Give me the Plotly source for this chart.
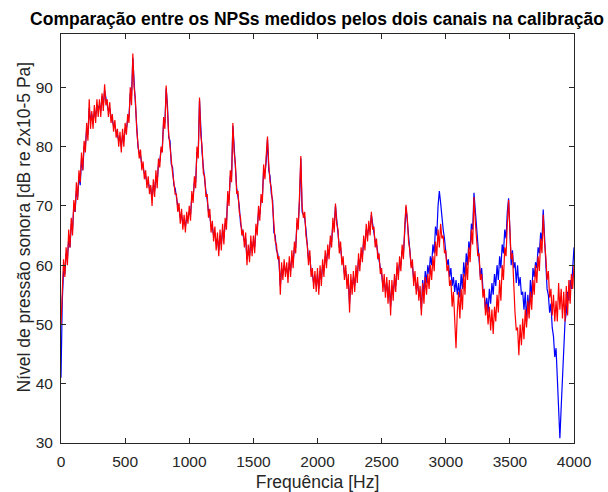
import plotly.graph_objects as go

freq_hz = list(range(0, 4001, 10))

nps_canal_azul = [
    41, 54, 59, 58.5, 62, 61, 64.5, 63, 67, 66,
    70, 69, 72.5, 71.5, 75, 73.5, 78, 76, 80, 80,
    83, 82, 86.5, 84.5, 85.5, 84, 86, 85, 87, 86.5,
    87, 86, 88.5, 87, 89.5, 88, 87, 86, 86.5, 85,
    84.5, 83.5, 83.5, 82.5, 82, 81, 81.5, 80, 82, 81,
    83, 83, 84.5, 85, 89, 88.5, 95, 91, 87, 84,
    80, 79, 78.5, 77, 76.5, 75.5, 75, 74, 74, 73,
    73, 71, 73.5, 72.5, 75, 74, 77, 77.5, 79.5, 80,
    84, 84, 89.8, 87, 81.5, 81, 77, 76.5, 73.5, 73,
    71, 70, 69.5, 68, 68.5, 67, 67.5, 66.5, 68, 68,
    69, 68.5, 71.5, 71.5, 74, 74, 79, 79, 87.8, 83,
    79, 76.5, 74, 72.5, 71, 69, 68.5, 66.5, 66.5, 65,
    65.5, 63.5, 64.5, 62.5, 65, 63.5, 66, 64.5, 67, 67,
    71.5, 71, 75, 75, 83.5, 80, 76, 73, 71.5, 70,
    67, 66, 65, 64, 64.5, 61, 62.5, 61.5, 64, 62.5,
    64, 63, 66, 66, 69, 68.5, 71, 71.5, 76, 75.5,
    77.5, 81.2, 76, 75, 72, 71, 65.5, 65, 62.5, 62,
    60.5, 56.5, 59.5, 58.5, 60, 59, 59.5, 58, 60.5, 59,
    61.5, 60.5, 63, 63, 67, 67, 71, 78, 69, 68.5,
    68, 66, 62.5, 61, 61.5, 59, 58.5, 57, 58, 56.5,
    58.5, 56, 59, 57.5, 60, 59, 61.5, 60.5, 62.5, 62,
    64, 64, 67, 66.5, 70, 68, 65, 63, 63, 61,
    60.5, 58.5, 59, 57, 57.5, 53.5, 57.5, 56, 58, 56.5,
    59, 58, 61, 60, 62, 61.5, 64, 63.5, 66, 65,
    66.5, 66, 68.5, 67, 65.5, 64, 63.5, 62, 61, 59.5,
    58.5, 56.5, 57.5, 55.5, 57, 54.5, 56.5, 53, 56.5, 55,
    57.5, 56.5, 59.5, 58.5, 60.5, 60, 62.5, 62, 65.5, 69.8,
    67.5, 65, 61.5, 60, 60, 57.5, 58, 56, 57, 55,
    55.5, 52.5, 57.5, 55, 59, 57, 60, 58.5, 61.5, 60,
    63.5, 62, 66.5, 65, 70, 72.5, 70.5, 68, 66, 64.5,
    62.5, 60, 61, 58, 59.5, 56.5, 58, 55.5, 57.5, 55,
    57, 54.5, 58.5, 56, 60.5, 58, 62, 60, 64, 62.5,
    67, 66, 72.2, 69, 66.5, 63, 61, 58, 59.5, 56,
    55, 52.5, 54.5, 52, 56, 53.5, 57, 55, 58.5, 56.5,
    60, 57.5, 61.5, 59.5, 63.5, 62, 66, 64.5, 69, 71.3,
    66, 60, 62.5, 59.5, 60.5, 57, 60, 56.5, 58, 55,
    55.5, 52.5, 55.5, 50.5, 55, 52, 57.5, 54.5, 59.5, 58,
    60.5, 59.5, 63, 62, 65.5, 64, 69.4, 65, 60.5, 56,
    55, 52, 53.5, 49.5, 48, 44.5, 46, 40, 35, 30.8,
    36, 42, 47, 50.5, 52, 55.5, 54, 57.5, 56, 59.5,
    63,
]

nps_canal_vermelho = [
    50, 56, 61, 58, 63, 60, 66, 63, 68, 65,
    71, 69, 74, 71, 76, 74, 79, 76, 81, 79,
    84, 81, 88, 83, 86, 83, 87, 84, 88, 85,
    88, 85, 89, 86, 90.5, 87, 88, 85, 87.5, 84,
    85.5, 82.5, 84.5, 81.5, 83, 80, 82.5, 79, 83, 80,
    84, 82, 85.5, 84, 90, 87, 95.7, 90, 88, 83,
    81, 78, 79.5, 76, 77.5, 74.5, 76, 73, 75, 72,
    73.5, 70, 74.5, 71.5, 76, 73, 78, 76.5, 80, 79,
    85, 83, 90.3, 86, 82, 80, 77.5, 75.5, 74, 72,
    72, 69, 70.5, 67, 69.5, 66, 68.5, 65.5, 69, 67,
    70, 67.5, 72.5, 70.5, 75, 73, 80, 78, 88.3, 82,
    80, 75.5, 75, 71.5, 72, 68, 69.5, 65.5, 67.5, 64,
    66.5, 62.5, 65.5, 61.5, 66, 62.5, 67, 63.5, 68, 66,
    72.5, 70, 76, 74, 84, 79, 77, 72, 72.5, 69,
    68, 65, 66, 63, 65.5, 60, 63.5, 60.5, 65, 61.5,
    65, 62, 67, 65, 70, 67.5, 72, 70.5, 77, 74.5,
    78.5, 81.7, 77, 74, 73, 70, 66.5, 64, 63.5, 61,
    61.5, 55, 60.5, 57.5, 61, 58, 60.5, 57, 61.5, 58,
    62.5, 59.5, 64, 62, 68, 66, 72, 78.4, 70, 68,
    69, 65, 63.5, 60, 62.5, 58, 59.5, 56, 59, 55.5,
    59.5, 55, 60, 56.5, 61, 58, 62.5, 59.5, 63.5, 61,
    65, 63, 68, 65.5, 70.4, 67, 66, 62, 64, 60,
    61.5, 57.5, 60, 56, 58.5, 52, 58.5, 55, 59, 55.5,
    60, 57, 62, 59, 63, 60.5, 65, 62.5, 67, 64,
    67.5, 65, 69, 66, 66.5, 63, 64.5, 61, 62, 58.5,
    59.5, 55.5, 58.5, 54.5, 58, 53.5, 57.5, 51.5, 57.5, 54,
    58.5, 55.5, 60.5, 57.5, 61.5, 59, 63.5, 61, 66.5, 70.2,
    68, 64, 62.5, 59.5, 61, 56.5, 59, 55, 58, 54,
    56.5, 51.5, 57, 53.5, 58, 55, 58.5, 56, 60, 57.5,
    61.5, 59, 64, 61.5, 66, 63, 67, 64.5, 65, 62,
    62.5, 59, 60, 56.5, 57.5, 53, 55.5, 49, 46, 52,
    55.5, 51, 56, 52.5, 58.5, 55, 60.5, 57.5, 63, 60.5,
    66, 63.5, 71.5, 67.5, 65, 61.5, 62, 57.5, 58.5, 54.5,
    56, 51.5, 53.5, 50, 53, 49, 52.5, 48.4, 53, 50.5,
    55, 52, 57.5, 54, 60, 57.5, 63, 61.5, 67, 71,
    66, 61, 62, 56, 52, 49, 49.5, 44.8, 50, 46.5,
    51, 47.5, 52.5, 49.5, 54, 51, 55.5, 52.5, 57.5, 55,
    60, 57, 61.5, 59, 64.5, 62, 68.5, 64, 61.5, 57.5,
    59, 54.5, 56, 51.5, 55, 50.5, 54, 50.5, 57, 52.5,
    56, 51, 55.5, 50.5, 56.5, 51.5, 57.5, 53.5, 58.5, 56,
    60,
]

x_ticks = [0, 500, 1000, 1500, 2000, 2500, 3000, 3500, 4000]
y_ticks = [30, 40, 50, 60, 70, 80, 90]

titulo = "Comparação entre os NPSs medidos pelos dois canais na calibração"
rotulo_x = "Frequência [Hz]"
rotulo_y = "Nível de pressão sonora [dB re 2x10-5 Pa]"

FONT = "Liberation Sans, Arial, sans-serif"
AX = "#262626"

fig = go.Figure()
fig.add_trace(go.Scatter(x=freq_hz, y=nps_canal_azul, mode="lines",
                         line=dict(color="#0000FF", width=1.2), showlegend=False))
fig.add_trace(go.Scatter(x=freq_hz, y=nps_canal_vermelho, mode="lines",
                         line=dict(color="#FF0000", width=1.2), showlegend=False))

axis_common = dict(showline=True, linecolor=AX, linewidth=1, mirror="ticks",
                   ticks="inside", ticklen=5, tickcolor=AX, showgrid=False,
                   zeroline=False, automargin=False,
                   tickfont=dict(family=FONT, size=15.5, color=AX))

fig.update_xaxes(range=[0, 4000], tickvals=x_ticks, ticktext=[str(v) for v in x_ticks],
                 title=dict(text=rotulo_x, font=dict(family=FONT, size=17.5, color=AX), standoff=13),
                 ticklabelstandoff=4, **axis_common)
fig.update_yaxes(range=[30, 99], tickvals=y_ticks, ticktext=[str(v) for v in y_ticks],
                 ticklabelstandoff=4, **axis_common)

fig.add_annotation(text=rotulo_y, textangle=-90, xref="paper", yref="paper",
                   x=(22.5 - 60.5) / 513.5, y=(443 - 227.5) / 409, xanchor="center", yanchor="middle",
                   showarrow=False, font=dict(family=FONT, size=17.5, color=AX))

fig.update_layout(
    width=608, height=492,
    margin=dict(l=60.5, r=34, t=34, b=49),
    paper_bgcolor="white", plot_bgcolor="white",
    title=dict(text="<b>" + titulo + "</b>", x=317 / 608, xanchor="center",
               y=1 - 19 / 492, yanchor="middle", xref="container", yref="container",
               font=dict(family=FONT, size=17.5, color="#000000")),
)

fig.write_html("out.html", config={"displayModeBar": False},
               post_script="document.body.style.margin='0';document.body.style.overflow='hidden';")
